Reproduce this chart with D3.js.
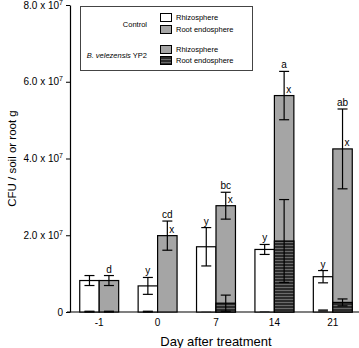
<!DOCTYPE html>
<html>
<head>
<meta charset="utf-8">
<script src="https://cdn.jsdelivr.net/npm/d3@7"></script>
<style>
body { margin: 0; background: #fff; }
svg { font-family: "Liberation Sans", Arial, sans-serif; }
</style>
</head>
<body>
<script>
// values in units of 1e7 CFU
var days = ["-1", "0", "7", "14", "21"];
var ctrlRhizo    = [0.82, 0.68, 1.70, 1.63, 0.92];
var ctrlRhizoErr = [0.13, 0.22, 0.50, 0.13, 0.16];
var ctrlEndo     = [0.01, 0.01, 0.01, 0.02, 0.07];
var ctrlEndoErr  = [0.01, 0.01, 0.00, 0.00, 0.00];
var bvRhizo      = [0.82, 1.99, 2.77, 5.64, 4.25];
var bvRhizoErr   = [0.13, 0.38, 0.35, 0.63, 1.04];
var bvEndo       = [0.01, 0.00, 0.23, 1.85, 0.25];
var bvEndoErr    = [0.01, 0.00, 0.21, 1.08, 0.09];
var ctrlLetters  = ["", "y", "y", "y", "y"];
var bvLetters    = ["d", "cd", "bc", "a", "ab"];
var bvLetters2   = ["", "x", "x", "x", "x"];
var yTicks = [0, 2, 4, 6, 8];
var yTickLabels = ["0", "2.0", "4.0", "6.0", "8.0"];

var width = 359, height = 348;
var svg = d3.select("body").append("svg")
	.attr("width", width)
	.attr("height", height);

var defs = svg.append("defs");
var pat = defs.append("pattern")
	.attr("id", "stripes")
	.attr("patternUnits", "userSpaceOnUse")
	.attr("width", 6).attr("height", 3);
pat.append("rect").attr("width", 6).attr("height", 3).attr("fill", "#2b2b2b");
pat.append("rect").attr("y", 2).attr("width", 6).attr("height", 1).attr("fill", "#6a6a6a");

var x = d3.scaleBand().domain(days).range([70, 362]).padding(0);
var y = d3.scaleLinear().domain([0, 8]).range([312, 5]);
var bw = x.bandwidth() / 3;   // each bar ~ one third of a group

function cx(i) { return x(days[i]) + x.bandwidth() / 2; }

// y axis
var yAxis = d3.axisLeft(y).tickValues(yTicks).tickSize(4).tickSizeOuter(0).tickPadding(3);
var gY = svg.append("g")
	.attr("transform", "translate(70,0)")
	.call(yAxis);
gY.select(".domain").attr("stroke", "#000").attr("stroke-width", 1.2);
gY.selectAll("text").each(function(d, i) {
	var t = d3.select(this).text("").attr("font-size", 10).attr("fill", "#000");
	if (d === 0) { t.text("0"); return; }
	t.append("tspan").text(yTickLabels[i] + " x 10");
	t.append("tspan").attr("dy", -4).attr("font-size", 7).text("7");
});

// x axis
var xAxis = d3.axisBottom(x).tickSize(0).tickPadding(7);
var gX = svg.append("g")
	.attr("transform", "translate(0,312)")
	.call(xAxis);
gX.select(".domain").remove();
gX.selectAll("text").attr("font-size", 10).attr("fill", "#000");
svg.append("line")
	.attr("x1", 67).attr("x2", width)
	.attr("y1", y(0)).attr("y2", y(0))
	.attr("stroke", "#000").attr("stroke-width", 1.2);

// titles
svg.append("text")
	.attr("transform", "rotate(-90)")
	.attr("x", -(y(0) + y(8)) / 2)
	.attr("y", 16)
	.attr("text-anchor", "middle")
	.attr("font-size", 11.5)
	.text("CFU / soil or root g");
svg.append("text")
	.attr("x", 216)
	.attr("y", 346)
	.attr("text-anchor", "middle")
	.attr("font-size", 13)
	.text("Day after treatment");

function errBar(xc, v, e) {
	if (e <= 0) return;
	var g = svg.append("g").attr("stroke", "#000").attr("stroke-width", 1.2);
	g.append("line").attr("x1", xc).attr("x2", xc).attr("y1", y(v + e)).attr("y2", y(Math.max(0, v - e)));
	g.append("line").attr("x1", xc - 5).attr("x2", xc + 5).attr("y1", y(v + e)).attr("y2", y(v + e));
	g.append("line").attr("x1", xc - 5).attr("x2", xc + 5).attr("y1", y(Math.max(0, v - e))).attr("y2", y(Math.max(0, v - e)));
}

days.forEach(function(d, i) {
	var xw = cx(i) - bw;      // white (control) bar left
	var xg = cx(i);           // gray (B. velezensis) bar left

	// control rhizosphere
	svg.append("rect")
		.attr("x", xw).attr("y", y(ctrlRhizo[i]))
		.attr("width", bw).attr("height", y(0) - y(ctrlRhizo[i]))
		.attr("fill", "#fff").attr("stroke", "#000").attr("stroke-width", 1.2);
	// control root endosphere (tiny)
	svg.append("rect")
		.attr("x", xw + bw / 4).attr("y", y(ctrlEndo[i]))
		.attr("width", bw / 2).attr("height", y(0) - y(ctrlEndo[i]))
		.attr("fill", "#2b2b2b");
	errBar(xw + bw / 2, ctrlRhizo[i], ctrlRhizoErr[i]);
	errBar(xw + bw / 2, ctrlEndo[i], ctrlEndoErr[i]);

	// B. velezensis rhizosphere
	svg.append("rect")
		.attr("x", xg).attr("y", y(bvRhizo[i]))
		.attr("width", bw).attr("height", y(0) - y(bvRhizo[i]))
		.attr("fill", "#a5a5a5").attr("stroke", "#000").attr("stroke-width", 1.2);
	// B. velezensis root endosphere
	if (bvEndo[i] > 0.05) {
		svg.append("rect")
			.attr("x", xg).attr("y", y(bvEndo[i]))
			.attr("width", bw).attr("height", y(0) - y(bvEndo[i]))
			.attr("fill", "url(#stripes)").attr("stroke", "#000").attr("stroke-width", 1.2);
	}
	errBar(xg + bw / 2, bvRhizo[i], bvRhizoErr[i]);
	errBar(xg + bw / 2, bvEndo[i], bvEndoErr[i]);

	// letters
	if (ctrlLetters[i]) {
		svg.append("text")
			.attr("x", xw + bw / 2).attr("y", y(ctrlRhizo[i] + ctrlRhizoErr[i]) - 3)
			.attr("text-anchor", "middle").attr("font-size", 10)
			.text(ctrlLetters[i]);
	}
	svg.append("text")
		.attr("x", xg + bw / 2).attr("y", y(bvRhizo[i] + bvRhizoErr[i]) - 3)
		.attr("text-anchor", "middle").attr("font-size", 10)
		.text(bvLetters[i]);
	if (bvLetters2[i]) {
		svg.append("text")
			.attr("x", xg + bw / 2 + 2).attr("y", y(bvRhizo[i]) - 3)
			.attr("font-size", 10)
			.text(bvLetters2[i]);
	}
});

// legend
var lg = svg.append("g").attr("font-size", 7.5);
lg.append("rect")
	.attr("x", 80.5).attr("y", 6.5).attr("width", 172).attr("height", 64)
	.attr("fill", "#fff").attr("stroke", "#444").attr("stroke-width", 1);
var legendItems = [
	{fill: "#fff", label: "Rhizosphere", yy: 13},
	{fill: "#a5a5a5", label: "Root endosphere", yy: 25},
	{fill: "#a5a5a5", label: "Rhizosphere", yy: 45},
	{fill: "url(#stripes)", label: "Root endosphere", yy: 56}
];
legendItems.forEach(function(it) {
	lg.append("rect")
		.attr("x", 160.5).attr("y", it.yy + 0.5).attr("width", 11).attr("height", 8)
		.attr("fill", it.fill).attr("stroke", "#000").attr("stroke-width", 1);
	lg.append("text").attr("x", 176).attr("y", it.yy + 7).text(it.label);
});
lg.append("text").attr("x", 147).attr("y", 27).attr("text-anchor", "end").text("Control");
var bt = lg.append("text").attr("x", 147).attr("y", 58).attr("text-anchor", "end");
bt.append("tspan").attr("font-style", "italic").text("B. velezensis");
bt.append("tspan").text(" YP2");
</script>
</body>
</html>
